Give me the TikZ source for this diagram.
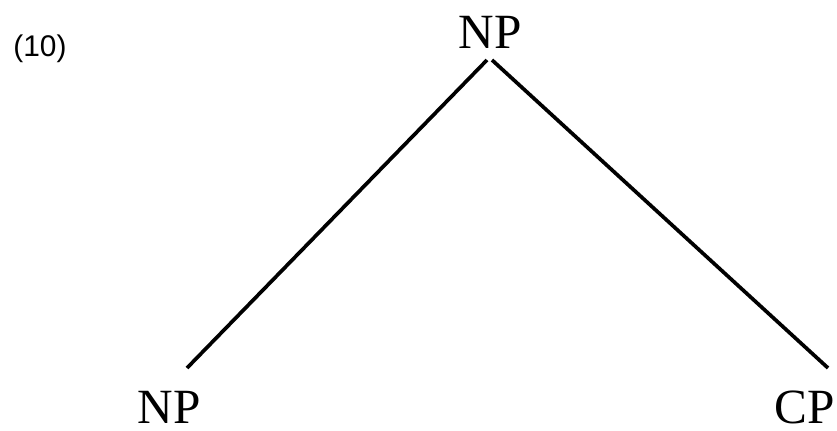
\documentclass[tikz,border=0pt]{standalone}
\usepackage{fontspec}
\setmainfont{Liberation Serif}
\newfontfamily\numfont{Liberation Sans}
\usetikzlibrary{positioning}

\begin{document}
\begin{tikzpicture}[x=0.01cm, y=-0.01cm]
        \useasboundingbox (0,0) rectangle (837,430);
        \node[inner sep=0, font=\numfont\fontsize{8.5}{10}\selectfont] (num) at (40,49) {(10)};
        \begin{scope}[every node/.style={inner sep=0, font=\fontsize{14}{16}\selectfont}]
            \node (np) at (490,32) {NP};
            \node (np2) at (169,407) {NP};
            \node (cp) at (805,407) {CP};
        \end{scope}
        \coordinate (np-l) at (487,60);
        \coordinate (np-r) at (492,60);
        \coordinate (np2-top) at (187,368);
        \coordinate (cp-top) at (828,368);
        \begin{scope}[every path/.style={line width=1.05pt}]
            \draw (np-l) -- (np2-top);
            \draw (np-r) -- (cp-top);
        \end{scope}
    \end{tikzpicture}
\end{document}
